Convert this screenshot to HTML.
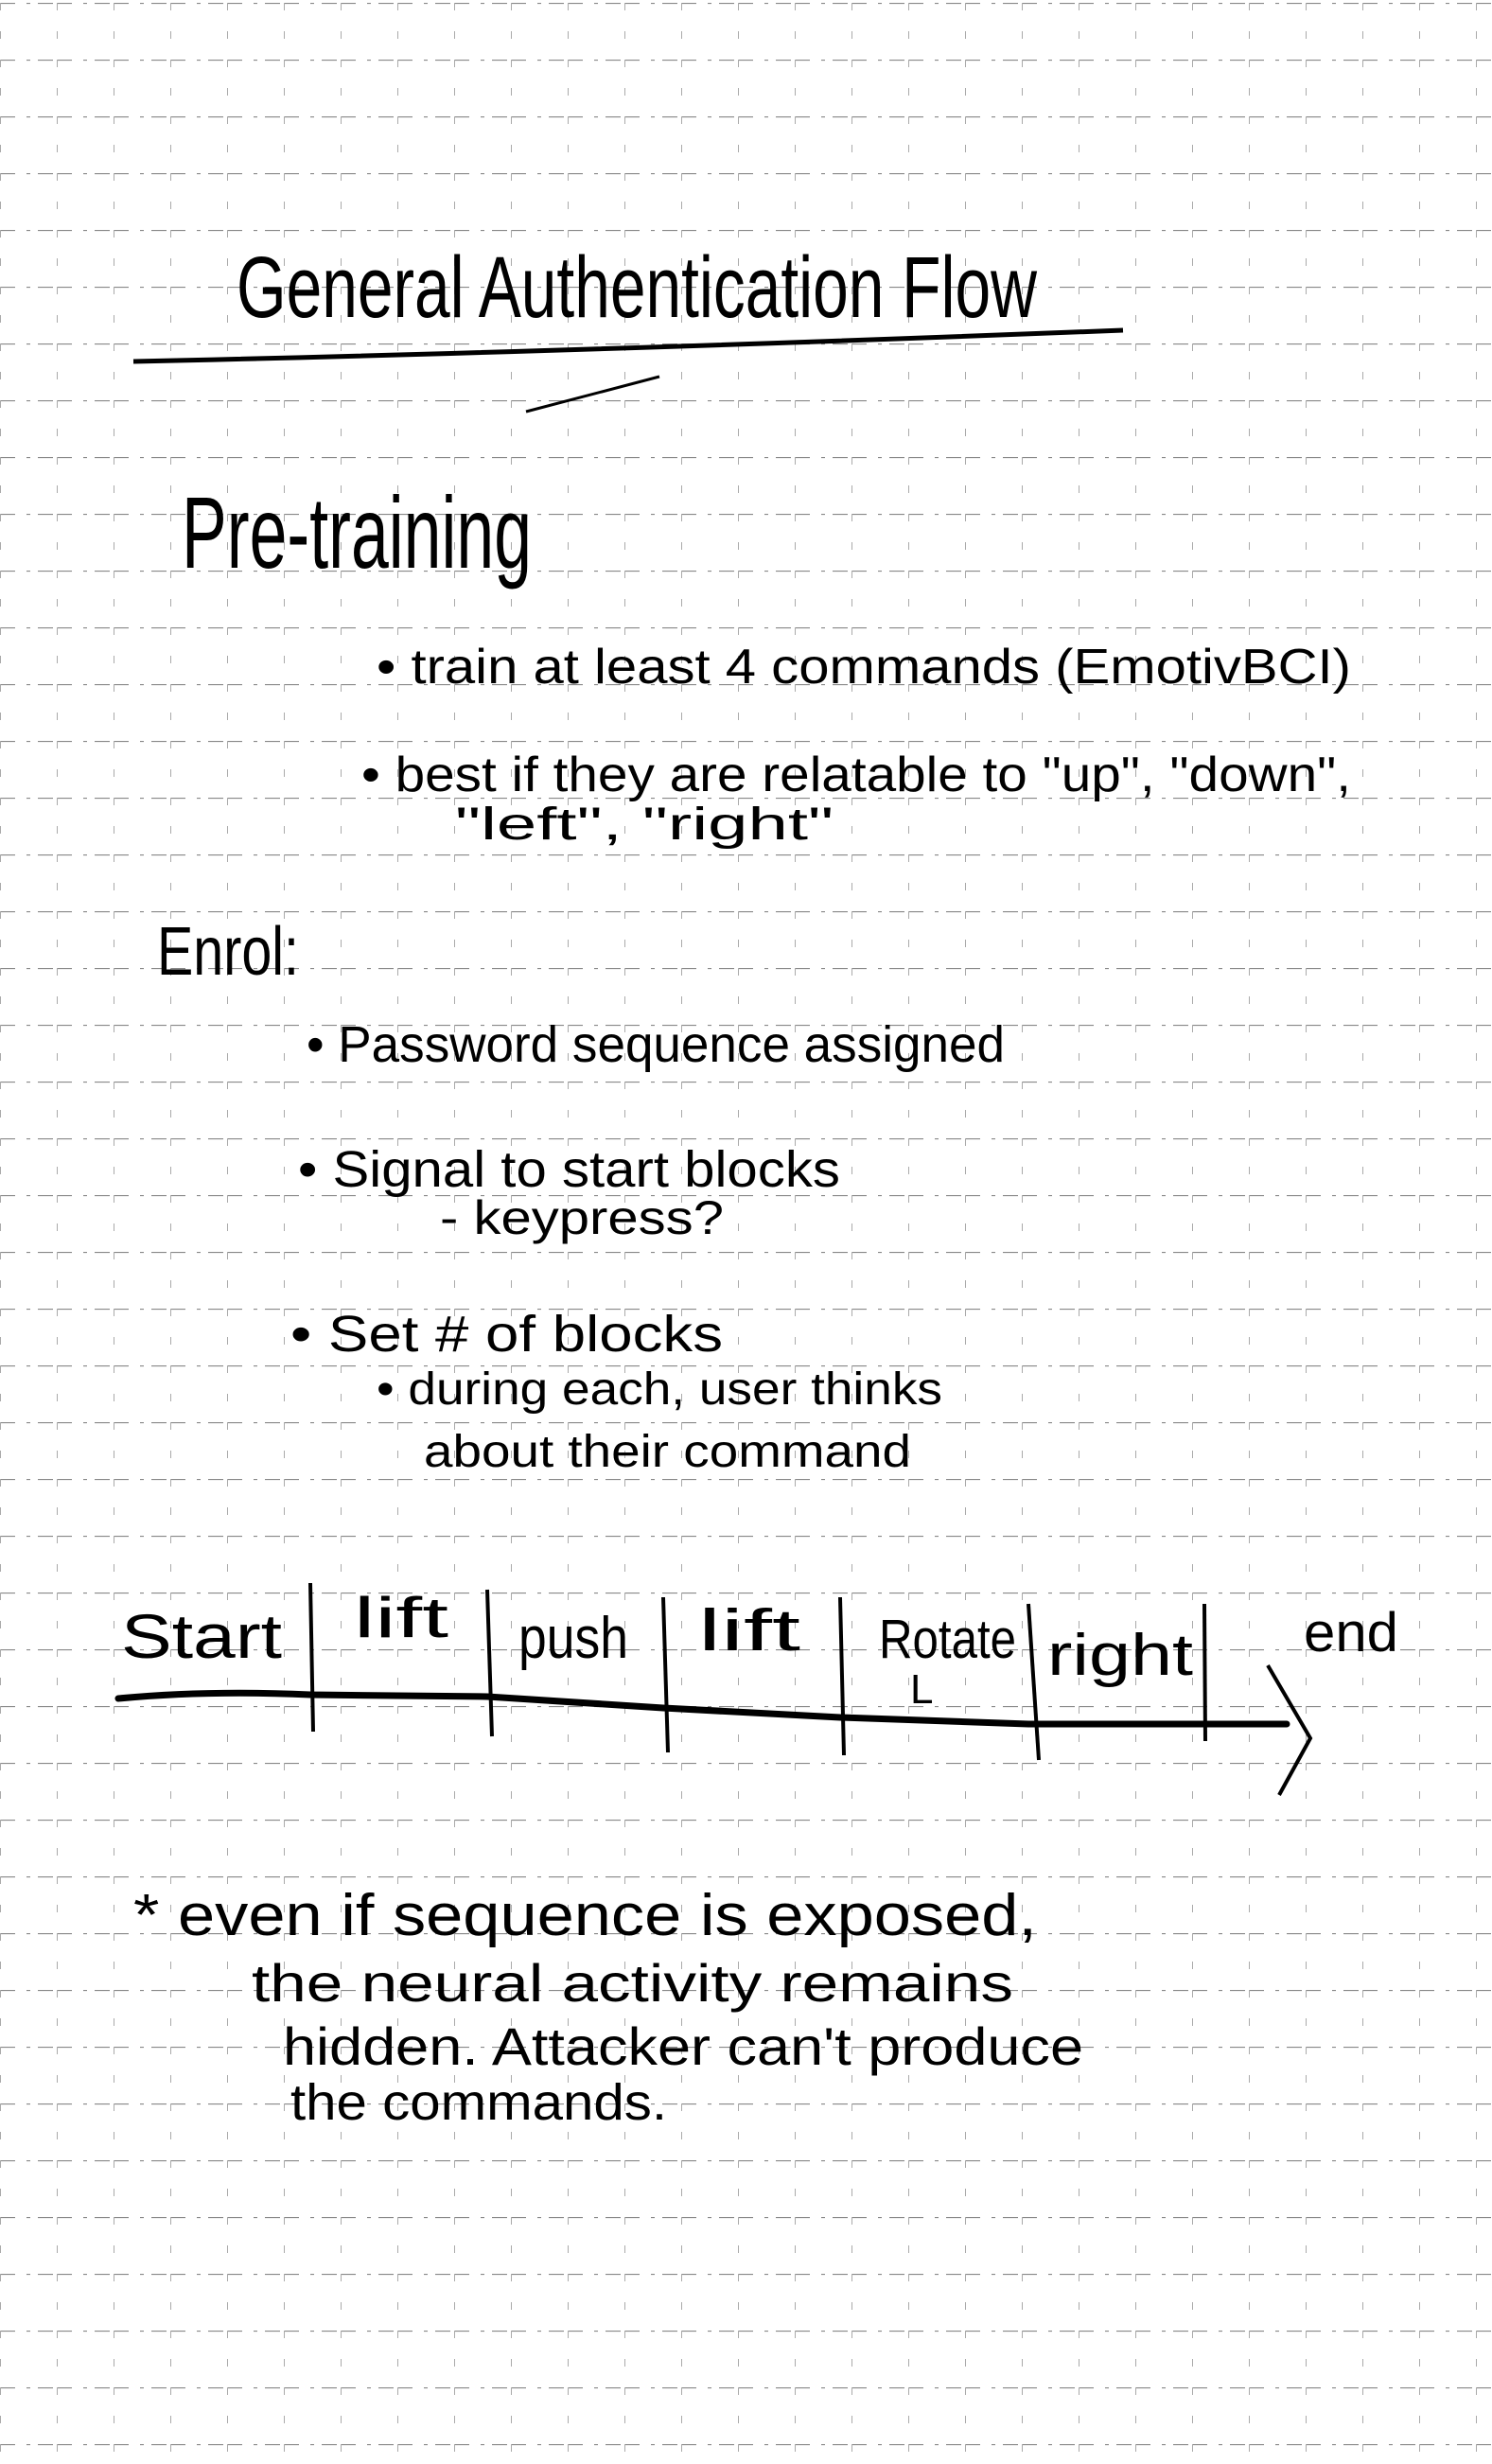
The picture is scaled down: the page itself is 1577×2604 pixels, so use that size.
<!DOCTYPE html>
<html><head><meta charset="utf-8"><style>
html,body{margin:0;padding:0;background:#fff;}
svg{display:block;}
text{font-family:"Liberation Sans",sans-serif;fill:#000;}
</style></head><body>
<svg width="1577" height="2604" viewBox="0 0 1577 2604" xmlns="http://www.w3.org/2000/svg">
<defs>
<pattern id="g" width="60" height="60" patternUnits="userSpaceOnUse" x="0" y="3">
<line x1="0" y1="0.5" x2="60" y2="0.5" stroke="#888" stroke-width="1.2" stroke-dasharray="16 12 4 8"/>
<line x1="0.5" y1="0" x2="0.5" y2="60" stroke="#aaa" stroke-width="1" stroke-dasharray="8 22"/>
</pattern>
</defs>
<rect width="1577" height="2604" fill="#fff"/>
<rect width="1577" height="2604" fill="url(#g)"/>

<text x="250" y="335" font-size="92" textLength="846" lengthAdjust="spacingAndGlyphs">General Authentication Flow</text>
<path d="M141 382 Q600 372 1187 349" stroke="#000" stroke-width="5" fill="none"/>
<path d="M556 435 L697 398" stroke="#000" stroke-width="3" fill="none"/>

<text x="192" y="600" font-size="108" textLength="370" lengthAdjust="spacingAndGlyphs">Pre-training</text>

<text x="398" y="722" font-size="52" textLength="1030" lengthAdjust="spacingAndGlyphs">• train at least 4 commands (EmotivBCI)</text>
<text x="382" y="836" font-size="52" textLength="1046" lengthAdjust="spacingAndGlyphs">• best if they are relatable to "up", "down",</text>
<text x="481" y="887" font-size="48" textLength="400" lengthAdjust="spacingAndGlyphs">"left", "right"</text>

<text x="166" y="1030" font-size="72" textLength="150" lengthAdjust="spacingAndGlyphs">Enrol:</text>
<text x="324" y="1122" font-size="54" textLength="738" lengthAdjust="spacingAndGlyphs">• Password sequence assigned</text>
<text x="315" y="1254" font-size="54" textLength="573" lengthAdjust="spacingAndGlyphs">• Signal to start blocks</text>
<text x="465" y="1304" font-size="50" textLength="300" lengthAdjust="spacingAndGlyphs">- keypress?</text>
<text x="307" y="1428" font-size="54" textLength="457" lengthAdjust="spacingAndGlyphs">• Set # of blocks</text>
<text x="398" y="1484" font-size="48" textLength="598" lengthAdjust="spacingAndGlyphs">• during each, user thinks</text>
<text x="448" y="1550" font-size="48" textLength="515" lengthAdjust="spacingAndGlyphs">about their command</text>

<text x="128" y="1752" font-size="66" textLength="170" lengthAdjust="spacingAndGlyphs">Start</text>
<text x="374" y="1730" font-size="60" textLength="100" lengthAdjust="spacingAndGlyphs">lift</text>
<text x="548" y="1752" font-size="62" textLength="116" lengthAdjust="spacingAndGlyphs">push</text>
<text x="738" y="1744" font-size="62" textLength="108" lengthAdjust="spacingAndGlyphs">lift</text>
<text x="929" y="1752" font-size="58" textLength="145" lengthAdjust="spacingAndGlyphs">Rotate</text>
<text x="962" y="1800" font-size="44">L</text>
<text x="1107" y="1770" font-size="62" textLength="154" lengthAdjust="spacingAndGlyphs">right</text>
<text x="1378" y="1745" font-size="58" textLength="100" lengthAdjust="spacingAndGlyphs">end</text>
<path d="M125 1795 Q220 1786 328 1791 L515 1793 L701 1805 L888 1815 L1087 1822 L1360 1822" stroke="#000" stroke-width="7" fill="none" stroke-linecap="round"/>
<path d="M1340 1760 L1385 1837 L1352 1897" stroke="#000" stroke-width="4" fill="none"/>
<g stroke="#000" stroke-width="4" fill="none">
<line x1="328" y1="1673" x2="331" y2="1830"/>
<line x1="515" y1="1680" x2="520" y2="1835"/>
<line x1="701" y1="1688" x2="706" y2="1852"/>
<line x1="888" y1="1688" x2="892" y2="1855"/>
<line x1="1087" y1="1695" x2="1098" y2="1860"/>
<line x1="1273" y1="1695" x2="1274" y2="1840"/>
</g>

<text x="141" y="2045" font-size="62" textLength="955" lengthAdjust="spacingAndGlyphs">* even if sequence is exposed,</text>
<text x="266" y="2115" font-size="56" textLength="805" lengthAdjust="spacingAndGlyphs">the neural activity remains</text>
<text x="299" y="2182" font-size="56" textLength="846" lengthAdjust="spacingAndGlyphs">hidden. Attacker can't produce</text>
<text x="307" y="2240" font-size="54" textLength="398" lengthAdjust="spacingAndGlyphs">the commands.</text>
</svg>
</body></html>
